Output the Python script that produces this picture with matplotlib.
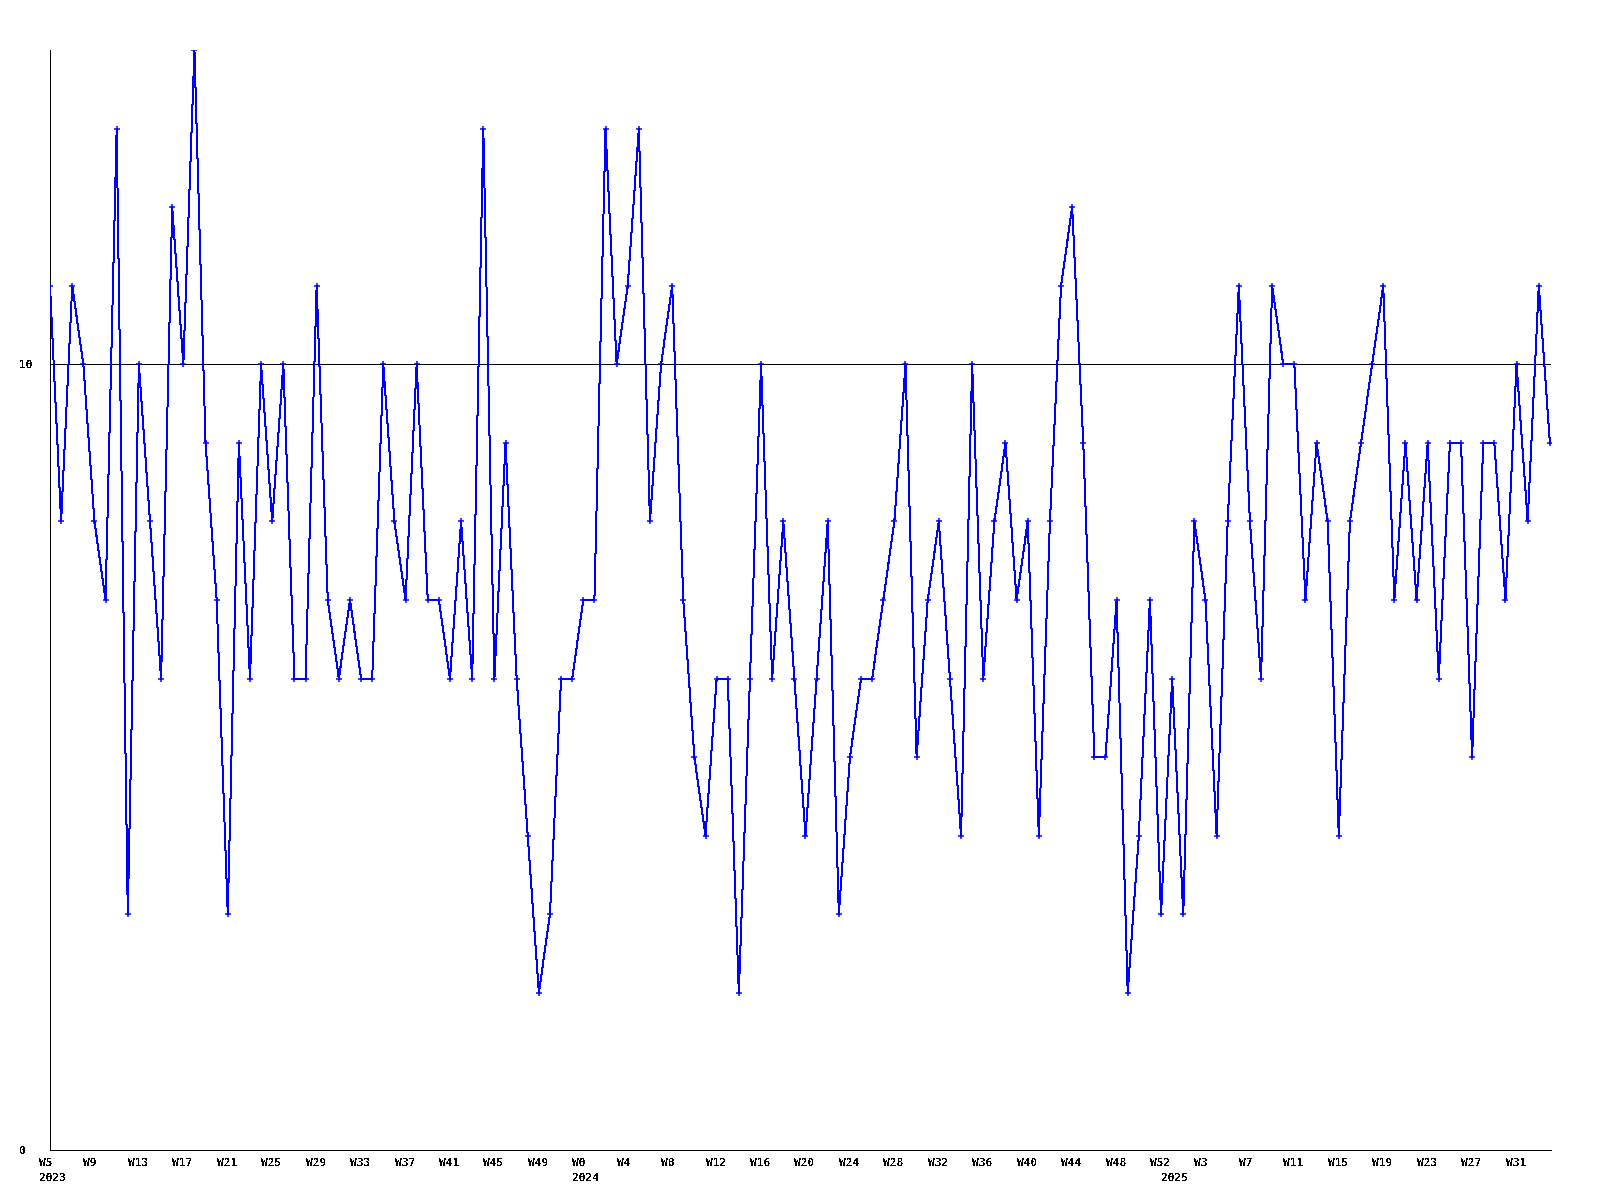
import matplotlib
matplotlib.use("Agg")
import matplotlib.pyplot as plt
from matplotlib.transforms import ScaledTranslation

# ---- data ----
values = [11, 8, 11, 10, 8, 7, 13, 3, 10, 8, 6, 12, 10, 14, 9, 7, 3, 9, 6, 10,
          8, 10, 6, 6, 11, 7, 6, 7, 6, 6, 10, 8, 7, 10, 7, 7, 6, 8, 6, 13,
          6, 9, 6, 4, 2, 3, 6, 6, 7, 7, 13, 10, 11, 13, 8, 10, 11, 7, 5, 4,
          6, 6, 2, 6, 10, 6, 8, 6, 4, 6, 8, 3, 5, 6, 6, 7, 8, 10, 5, 7,
          8, 6, 4, 10, 6, 8, 9, 7, 8, 4, 8, 11, 12, 9, 5, 5, 7, 2, 4, 7,
          3, 6, 3, 8, 7, 4, 8, 11, 8, 6, 11, 10, 10, 7, 9, 8, 4, 8, 9, 10,
          11, 7, 9, 7, 9, 6, 9, 9, 5, 9, 9, 7, 10, 8, 11, 9]

tick_labels = ["W5", "W9", "W13", "W17", "W21", "W25", "W29", "W33", "W37", "W41",
               "W45", "W49", "W0", "W4", "W8", "W12", "W16", "W20", "W24", "W28",
               "W32", "W36", "W40", "W44", "W48", "W52", "W3", "W7", "W11", "W15",
               "W19", "W23", "W27", "W31"]
year_labels = ["2023", "2024", "2025"]
year_start_index = [0, 48, 101]
reference_level = 10
y_tick_values = [0, 10]

plt.rcParams["text.antialiased"] = False
FONT = dict(family="DejaVu Sans Mono", weight="bold", size=8)
PX = 0.72  # one pixel in points at dpi 100

fig = plt.figure(figsize=(16, 12), dpi=100)
ax = fig.add_axes([50 / 1600, 50 / 1200, 1501 / 1600, 1100 / 1200])

x = list(range(len(values)))
ax.plot(x, values, color="#0000ff", lw=PX, marker="+", ms=5, mew=PX * 1.5,
        antialiased=False, zorder=3)
ax.axhline(reference_level, color="black", lw=PX, antialiased=False, zorder=2)

ax.set_xlim(0, len(values) - 1 + 0.1)
ax.set_ylim(0, 14)

for s in ["top", "right"]:
    ax.spines[s].set_visible(False)
for s in ["left", "bottom"]:
    ax.spines[s].set_linewidth(PX)
    ax.spines[s].set_antialiased(False)

ax.set_xticks(x[::4][:len(tick_labels)])
ax.set_xticklabels(tick_labels, **FONT)
ax.set_yticks(y_tick_values)
ax.set_yticklabels([str(v) for v in y_tick_values], **FONT)
ax.tick_params(axis="both", length=0)
ax.tick_params(axis="x", pad=6)
ax.tick_params(axis="y", pad=31 * 0.72)

shift = ScaledTranslation(-11 / 100, 0, fig.dpi_scale_trans)
for lab in ax.get_xticklabels():
    lab.set_ha("left")
    lab.set_transform(lab.get_transform() + shift)
for lab in ax.get_yticklabels():
    lab.set_ha("left")

trans = ax.get_xaxis_transform() + shift
for idx, yl in zip(year_start_index, year_labels):
    ax.text(idx, 0.0, yl, transform=trans + ScaledTranslation(0, -23 / 100, fig.dpi_scale_trans),
            ha="left", va="top", **FONT)

fig.savefig("out.png", dpi=100)
